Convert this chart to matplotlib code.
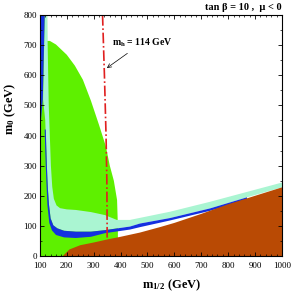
import matplotlib
matplotlib.use('Agg')
import matplotlib.pyplot as plt
from matplotlib.ticker import MultipleLocator

plt.rcParams['font.family'] = ['Liberation Serif', 'DejaVu Serif']
plt.rcParams['mathtext.fontset'] = 'custom'
plt.rcParams['mathtext.rm'] = 'Liberation Serif'
plt.rcParams['mathtext.bf'] = 'Liberation Serif:bold'
plt.rcParams['mathtext.default'] = 'bf'

# region boundaries (m_1/2, m_0) in GeV
green_m12 = [100, 390, 390, 387, 375, 360, 345, 320, 290, 260, 230, 200, 160, 137, 127, 127, 100]
green_m0 = [0, 0, 100, 186, 250, 300, 365, 435, 515, 585, 632, 668, 702, 714, 714, 800, 800]

lgreen_m12 = [118, 127, 130, 133, 137, 141, 146, 152, 162, 175, 200, 234, 290, 342, 386,
              435, 583, 732, 1000, 1000, 870, 732, 583, 472, 435, 342, 290, 234, 190,
              165, 150, 140, 134, 128, 124, 120, 112]
lgreen_m0 = [800, 800, 650, 500, 400, 300, 230, 190, 168, 159, 155, 153, 146, 136, 120,
             120, 147, 180, 244, 228, 195, 158, 126, 108, 98, 86, 81, 81, 84,
             92, 102, 125, 170, 250, 350, 450, 520]

blueA_m12 = [104, 118, 111, 104, 100, 100]
blueA_m0 = [800, 800, 520, 450, 430, 700]

blueB_m12 = [122, 126, 130, 134, 140, 150, 165, 190, 234, 290, 342, 435, 472, 583, 732, 870,
             870, 732, 583, 472, 435, 342, 290, 234, 190, 160, 145, 135, 128, 124, 120, 118]
blueB_m0 = [420, 300, 220, 170, 125, 102, 92, 84, 81, 81, 86, 98, 108, 126, 158, 195,
            185, 150, 118, 96, 88, 76, 64, 60, 62, 70, 85, 110, 170, 250, 350, 420]

brown_m12 = [185, 210, 250, 300, 350, 400, 472, 550, 600, 700, 800, 900, 1000, 1000]
brown_m0 = [0, 22, 36, 45, 55, 64, 78, 97, 110, 140, 172, 200, 228, 0]

mh_m12 = [333, 340, 346, 349, 350, 350]
mh_m0 = [800, 600, 400, 250, 100, 60]

fig = plt.figure(figsize=(2.91, 2.94), dpi=100)
ax = fig.add_axes([0.137, 0.129, 0.832, 0.820])

ax.fill(green_m12, green_m0, color='#5ef000', lw=0)
ax.fill(lgreen_m12, lgreen_m0, color='#aaf5d2', lw=0)
ax.fill(blueA_m12, blueA_m0, color='#1430e0', lw=0)
ax.fill(blueB_m12, blueB_m0, color='#1430e0', lw=0)
ax.fill(brown_m12, brown_m0, color='#b94a04', lw=0)
ax.plot(mh_m12, mh_m0, color='#e02020', lw=1.2, ls='-.')

ax.annotate('m$_\\mathbf{h}$ = 114 GeV', xy=(349, 624), xytext=(368, 708),
            fontsize=7, fontweight='bold', va='center', ha='left',
            arrowprops=dict(arrowstyle='->', lw=0.5, color='black',
                            shrinkA=2, shrinkB=0))

ax.set_xlim(100, 1000)
ax.set_ylim(0, 800)
ax.xaxis.set_major_locator(MultipleLocator(100))
ax.xaxis.set_minor_locator(MultipleLocator(20))
ax.yaxis.set_major_locator(MultipleLocator(100))
ax.yaxis.set_minor_locator(MultipleLocator(50))
ax.tick_params(which='both', direction='in', top=True, right=True, labelsize=6.5)
ax.tick_params(axis='x', pad=4)
ax.tick_params(axis='y', pad=2)
ax.tick_params(which='major', length=3, width=0.6)
ax.tick_params(which='minor', length=1.5, width=0.5)
for s in ax.spines.values():
    s.set_linewidth(0.8)

fig.text(0.588, 0.03, 'm$_{1/2}$ (GeV)', fontsize=9, fontweight='bold', ha='center', va='center')
fig.text(0.035, 0.63, 'm$_0$ (GeV)', fontsize=9, fontweight='bold', rotation=90,
         ha='center', va='center')
fig.text(0.969, 0.976, 'tan β = 10 ,  μ < 0', fontsize=7.5, fontweight='bold',
         ha='right', va='center')

fig.savefig('out.png', dpi=100)
